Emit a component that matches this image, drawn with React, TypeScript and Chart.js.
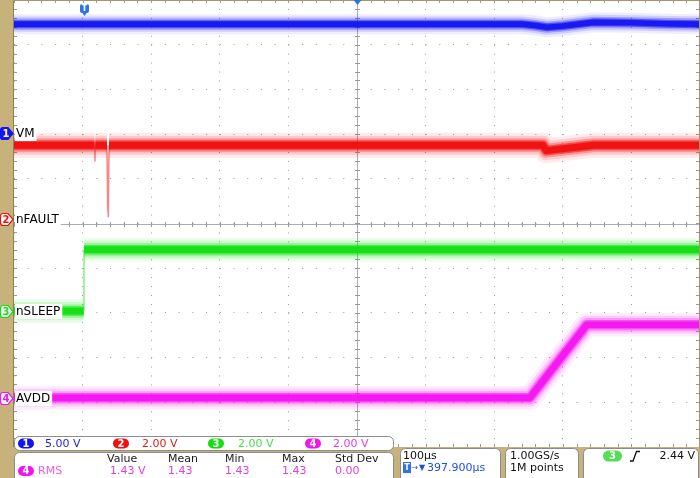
import React, { useEffect, useRef } from "react";
import { Chart, registerables } from "chart.js";

Chart.register(...registerables);

// ---- axes: time in µs (100 µs/div, trigger at 0), vertical in divisions ----
const timeMin = -100;
const timeMax = 900;
const timeStep = 100;
const divMin = -5;
const divMax = 5;

// ---- channels ----
const channelNames = ["VM", "nFAULT", "nSLEEP", "AVDD"];
const channelScales = [5, 2, 2, 2]; // V/div
const channelOffsets = [2.02, 0.1, -1.96, -3.9]; // ground marker position (div)
const channelColors = ["#1414f0", "#f01010", "#12e012", "#f514f0"];
const readoutColors = ["#1c1ce0", "#e01818", "#48dc48", "#e040e0"];
const channelBandScale = [0.8, 1.0, 0.95, 0.95];

// CH1 VM (V)
const ch1Times = [-100, 640, 660, 677, 700, 744, 800, 850, 900];
const ch1Volts = [12.2, 12.2, 12.05, 11.85, 12.0, 12.4, 12.35, 12.25, 12.2];
// CH2 nFAULT (V)
const ch2Times = [-100, 17.5, 18, 18.5, 35.5, 36.5, 37.5, 38.5, 671, 676, 745, 900];
const ch2Volts = [3.3, 3.3, 2.6, 3.3, 3.3, 0.6, 0.1, 3.3, 3.3, 3.06, 3.3, 3.3];
// CH3 nSLEEP (V)
const ch3Times = [-100, 1.5, 2, 900];
const ch3Volts = [0, 0, 2.75, 2.75];
// CH4 AVDD (V)
const ch4Times = [-100, 652, 735, 900];
const ch4Volts = [0, 0, 3.27, 3.27];

// ---- readouts ----
const scaleLabels = ["5.00 V", "2.00 V", "2.00 V", "2.00 V"];
const measHeaders = ["Value", "Mean", "Min", "Max", "Std Dev"];
const measValues = ["1.43 V", "1.43", "1.43", "1.43", "0.00"];
const measName = "RMS";
const timebaseLabel = "100µs";
const triggerPosLabel = "397.900µs";
const sampleRateLabel = "1.00GS/s";
const recordLabel = "1M points";
const triggerLevelLabel = "2.44 V";

const FONT = '"DejaVu Sans", sans-serif';
const KHAKI = "#c6b27a";

function rgba(hex: string, a: number) {
  const n = parseInt(hex.slice(1), 16);
  return `rgba(${(n >> 16) & 255},${(n >> 8) & 255},${n & 255},${a})`;
}

const traces = [
  { t: ch1Times, v: ch1Volts },
  { t: ch2Times, v: ch2Volts },
  { t: ch3Times, v: ch3Volts },
  { t: ch4Times, v: ch4Volts },
];

const layers = [
  { w: 25, a: 0.08, core: false },
  { w: 19, a: 0.14, core: false },
  { w: 14, a: 0.28, core: false },
  { w: 10, a: 0.55, core: false },
  { w: 7, a: 0.9, core: true },
];

function steep(c: any) {
  const dx = Math.abs(c.p1.x - c.p0.x);
  const dy = Math.abs(c.p1.y - c.p0.y);
  return dy > 3 && dy > 4 * dx;
}

function buildDatasets() {
  const ds: any[] = [];
  traces.forEach((tr, ch) => {
    const pts = tr.t.map((t, i) => ({ x: t, y: tr.v[i] / channelScales[ch] + channelOffsets[ch] }));
    const col = channelColors[ch];
    layers.forEach((L) => {
      const w = L.w * channelBandScale[ch];
      ds.push({
        data: pts,
        borderColor: rgba(col, L.a),
        borderWidth: w,
        pointRadius: 0,
        tension: 0,
        clip: 0,
        borderJoinStyle: "round",
        segment: {
          borderWidth: (c: any) => (steep(c) ? 1.5 : w),
          borderColor: (c: any) =>
            steep(c) ? (L.core ? rgba(col, 0.5) : "rgba(0,0,0,0)") : rgba(col, L.a),
        },
      });
    });
  });
  return ds;
}

function roundBox(ctx: CanvasRenderingContext2D, x: number, y: number, w: number, h: number, r: number) {
  ctx.beginPath();
  ctx.roundRect(x, y, w, h, r);
  ctx.fillStyle = "#ffffff";
  ctx.fill();
  ctx.strokeStyle = "#8c8c8c";
  ctx.lineWidth = 1;
  ctx.stroke();
}

function pill(ctx: CanvasRenderingContext2D, x: number, y: number, w: number, h: number, color: string, label: string) {
  ctx.beginPath();
  ctx.roundRect(x, y - h / 2, w, h, h / 2);
  ctx.fillStyle = color;
  ctx.fill();
  ctx.fillStyle = "#ffffff";
  ctx.font = `bold 10px ${FONT}`;
  ctx.textAlign = "center";
  ctx.textBaseline = "middle";
  ctx.fillText(label, x + w / 2, y + 0.5);
  ctx.textAlign = "left";
}

const bgPlugin = {
  id: "bg",
  beforeDraw(chart: any) {
    const { ctx, width, height } = chart;
    ctx.save();
    ctx.fillStyle = "#ffffff";
    ctx.fillRect(0, 0, width, height);
    ctx.restore();
  },
};

const graticulePlugin = {
  id: "graticule",
  beforeDatasetsDraw(chart: any) {
    const { ctx, chartArea: a, scales } = chart;
    const xs = scales.x;
    const ys = scales.y;
    ctx.save();
    const cy = Math.round(ys.getPixelForValue(0)) + 0.5;
    const cx = Math.round(xs.getPixelForValue((timeMin + timeMax) / 2)) + 0.5;
    ctx.strokeStyle = "#a9a9c2";
    ctx.lineWidth = 1;
    ctx.beginPath();
    ctx.moveTo(a.left, cy);
    ctx.lineTo(a.right, cy);
    ctx.moveTo(cx, a.top);
    ctx.lineTo(cx, a.bottom);
    ctx.stroke();
    ctx.strokeStyle = "#9a9a9a";
    ctx.beginPath();
    for (let t = timeMin; t <= timeMax + 0.01; t += timeStep / 5) {
      const x = Math.round(xs.getPixelForValue(t)) + 0.5;
      ctx.moveTo(x, cy - 2.5);
      ctx.lineTo(x, cy + 2.5);
      ctx.moveTo(x, a.top);
      ctx.lineTo(x, a.top + 3);
      ctx.moveTo(x, a.bottom - 3);
      ctx.lineTo(x, a.bottom);
    }
    for (let d = divMin; d <= divMax + 0.001; d += 0.2) {
      const y = Math.round(ys.getPixelForValue(d)) + 0.5;
      ctx.moveTo(cx - 2.5, y);
      ctx.lineTo(cx + 2.5, y);
      ctx.moveTo(a.left, y);
      ctx.lineTo(a.left + 3, y);
      ctx.moveTo(a.right - 4, y);
      ctx.lineTo(a.right - 1, y);
    }
    ctx.stroke();
    ctx.restore();
  },
};

const overlayPlugin = {
  id: "overlay",
  afterDatasetsDraw(chart: any) {
    const { ctx, scales } = chart;
    const ys = scales.y;
    ctx.save();
    // channel labels
    ctx.font = `12px ${FONT}`;
    ctx.textBaseline = "middle";
    channelNames.forEach((name, i) => {
      const y = Math.round(ys.getPixelForValue(channelOffsets[i]));
      const w = ctx.measureText(name).width;
      ctx.fillStyle = "#ffffff";
      ctx.fillRect(15, y - 7, w + 3, 15);
      ctx.fillStyle = "#000000";
      ctx.fillText(name, 16, y + 0.5);
    });
    ctx.restore();
  },
  afterDraw(chart: any) {
    const { ctx, scales, width, height } = chart;
    const xs = scales.x;
    const ys = scales.y;
    ctx.save();
    // left strip and frame
    ctx.fillStyle = KHAKI;
    ctx.fillRect(0, 0, 13, height);
    ctx.fillStyle = "#8f7f55";
    ctx.fillRect(13, 0, 1, 447);
    ctx.fillStyle = "#a8936a";
    ctx.fillRect(13, 0, width - 13, 1);
    ctx.fillRect(width - 1, 0, 1, 447);
    // bottom band
    ctx.fillStyle = KHAKI;
    ctx.fillRect(0, 447, width, height - 447);

    // channel ground markers
    channelOffsets.forEach((off, i) => {
      const y = Math.round(ys.getPixelForValue(off)) + 0.5;
      const col = channelColors[i];
      ctx.beginPath();
      ctx.moveTo(3, y - 6);
      ctx.lineTo(8, y - 6);
      ctx.lineTo(13, y);
      ctx.lineTo(8, y + 6);
      ctx.lineTo(3, y + 6);
      ctx.quadraticCurveTo(0.5, y + 6, 0.5, y + 3);
      ctx.lineTo(0.5, y - 3);
      ctx.quadraticCurveTo(0.5, y - 6, 3, y - 6);
      ctx.closePath();
      ctx.fillStyle = i === 0 ? col : "#ffffff";
      ctx.fill();
      ctx.strokeStyle = col;
      ctx.lineWidth = 1.2;
      ctx.stroke();
      ctx.fillStyle = i === 0 ? "#ffffff" : col;
      ctx.font = `bold 10px ${FONT}`;
      ctx.textAlign = "center";
      ctx.textBaseline = "middle";
      ctx.fillText(String(i + 1), 6, y + 0.5);
    });
    ctx.textAlign = "left";

    // trigger position marker
    const tx = Math.round(xs.getPixelForValue(0)) + 1.5;
    ctx.beginPath();
    ctx.roundRect(tx - 4.5, 4, 9, 9, 2);
    ctx.fillStyle = "#2f72e6";
    ctx.fill();
    ctx.beginPath();
    ctx.moveTo(tx - 2.5, 12.5);
    ctx.lineTo(tx + 2.5, 12.5);
    ctx.lineTo(tx, 16);
    ctx.closePath();
    ctx.fill();
    ctx.fillStyle = "#ffffff";
    ctx.font = `bold 8px ${FONT}`;
    ctx.textAlign = "center";
    ctx.textBaseline = "middle";
    ctx.fillText("T", tx, 9);
    // expansion point marker
    const ex = Math.round(xs.getPixelForValue((timeMin + timeMax) / 2)) + 0.5;
    ctx.beginPath();
    ctx.moveTo(ex - 4, 0);
    ctx.lineTo(ex, -4);
    ctx.lineTo(ex + 4, 0);
    ctx.lineTo(ex, 5);
    ctx.closePath();
    ctx.fillStyle = "#2f72e6";
    ctx.fill();
    ctx.textAlign = "left";

    // --- readout box 1: channel scales ---
    roundBox(ctx, 14.5, 436.5, 379, 14, 5);
    const pillXs = [18, 113, 208, 305];
    const txtXs = [45, 142, 238, 333];
    ctx.textBaseline = "middle";
    scaleLabels.forEach((s, i) => {
      pill(ctx, pillXs[i], 443.5, 16, 10, channelColors[i], String(i + 1));
      ctx.font = `11px ${FONT}`;
      ctx.fillStyle = readoutColors[i];
      ctx.textAlign = "left";
      ctx.textBaseline = "middle";
      ctx.fillText(s, txtXs[i], 444);
    });

    // --- readout box 2: measurements ---
    roundBox(ctx, 14.5, 452.5, 379, 32, 5);
    const hx = [107, 168, 225, 282, 335];
    const vx = [110, 168, 225, 282, 335];
    ctx.font = `11px ${FONT}`;
    ctx.fillStyle = "#1a1a1a";
    measHeaders.forEach((h, i) => ctx.fillText(h, hx[i], 459));
    pill(ctx, 18, 471, 16, 10, channelColors[3], "4");
    ctx.font = `11px ${FONT}`;
    ctx.textAlign = "left";
    ctx.textBaseline = "middle";
    ctx.fillStyle = "#e860e8";
    ctx.fillText(measName, 38, 471.5);
    ctx.fillStyle = readoutColors[3];
    measValues.forEach((v, i) => ctx.fillText(v, vx[i], 471.5));

    // --- box 3: timebase ---
    roundBox(ctx, 400.5, 448.5, 100, 36, 5);
    ctx.fillStyle = "#111111";
    ctx.fillText(timebaseLabel, 403, 456.5);
    ctx.fillStyle = "#2f72e6";
    ctx.fillRect(403, 462, 8, 11);
    ctx.fillStyle = "#ffffff";
    ctx.font = `bold 8px ${FONT}`;
    ctx.textAlign = "center";
    ctx.fillText("T", 407, 467.5);
    ctx.textAlign = "left";
    ctx.fillStyle = "#1c4fe0";
    ctx.font = `8px ${FONT}`;
    ctx.fillText("→", 411.5, 467.5);
    ctx.fillText("▼", 419, 467.5);
    ctx.font = `11px ${FONT}`;
    ctx.fillText(triggerPosLabel, 427, 468);

    // --- box 4: acquisition ---
    roundBox(ctx, 505.5, 448.5, 73, 36, 5);
    ctx.fillStyle = "#111111";
    ctx.fillText(sampleRateLabel, 510, 456.5);
    ctx.fillText(recordLabel, 510, 468);

    // --- box 5: trigger ---
    roundBox(ctx, 583.5, 448.5, 115, 36, 5);
    pill(ctx, 603, 456, 19, 11, "#52e052", "3");
    ctx.strokeStyle = "#111111";
    ctx.lineWidth = 1.3;
    ctx.beginPath();
    ctx.moveTo(630, 461);
    ctx.lineTo(633, 461);
    ctx.lineTo(636.5, 451.5);
    ctx.lineTo(640, 451.5);
    ctx.stroke();
    ctx.font = `11px ${FONT}`;
    ctx.textAlign = "right";
    ctx.textBaseline = "middle";
    ctx.fillStyle = "#111111";
    ctx.fillText(triggerLevelLabel, 695, 456.5);
    ctx.restore();
  },
};

export default function App() {
  const ref = useRef<HTMLCanvasElement>(null);
  useEffect(() => {
    const canvas = ref.current!;
    const chart = new Chart(canvas, {
      type: "line",
      data: { datasets: buildDatasets() },
      options: {
        animation: false,
        responsive: false,
        devicePixelRatio: 1,
        events: [],
        layout: { padding: { left: 14, right: 0, top: 0, bottom: 31 } },
        plugins: { legend: { display: false }, tooltip: { enabled: false } },
        scales: {
          x: {
            type: "linear",
            min: timeMin,
            max: timeMax,
            ticks: { display: false, stepSize: timeStep },
            grid: { color: "#9c9c9c", drawTicks: false, lineWidth: 1 },
            border: { display: false, dash: [1, 7.94] },
          },
          y: {
            type: "linear",
            min: divMin,
            max: divMax,
            ticks: { display: false, stepSize: 1 },
            grid: { color: "#9c9c9c", drawTicks: false, lineWidth: 1 },
            border: { display: false, dash: [1, 12.72] },
          },
        },
      } as any,
      plugins: [bgPlugin, graticulePlugin, overlayPlugin],
    });
    return () => chart.destroy();
  }, []);
  return (
    <div style={{ position: "fixed", left: 0, top: 0, width: 700, height: 478 }}>
      <canvas ref={ref} width={700} height={478} style={{ display: "block", width: 700, height: 478 }} />
    </div>
  );
}
